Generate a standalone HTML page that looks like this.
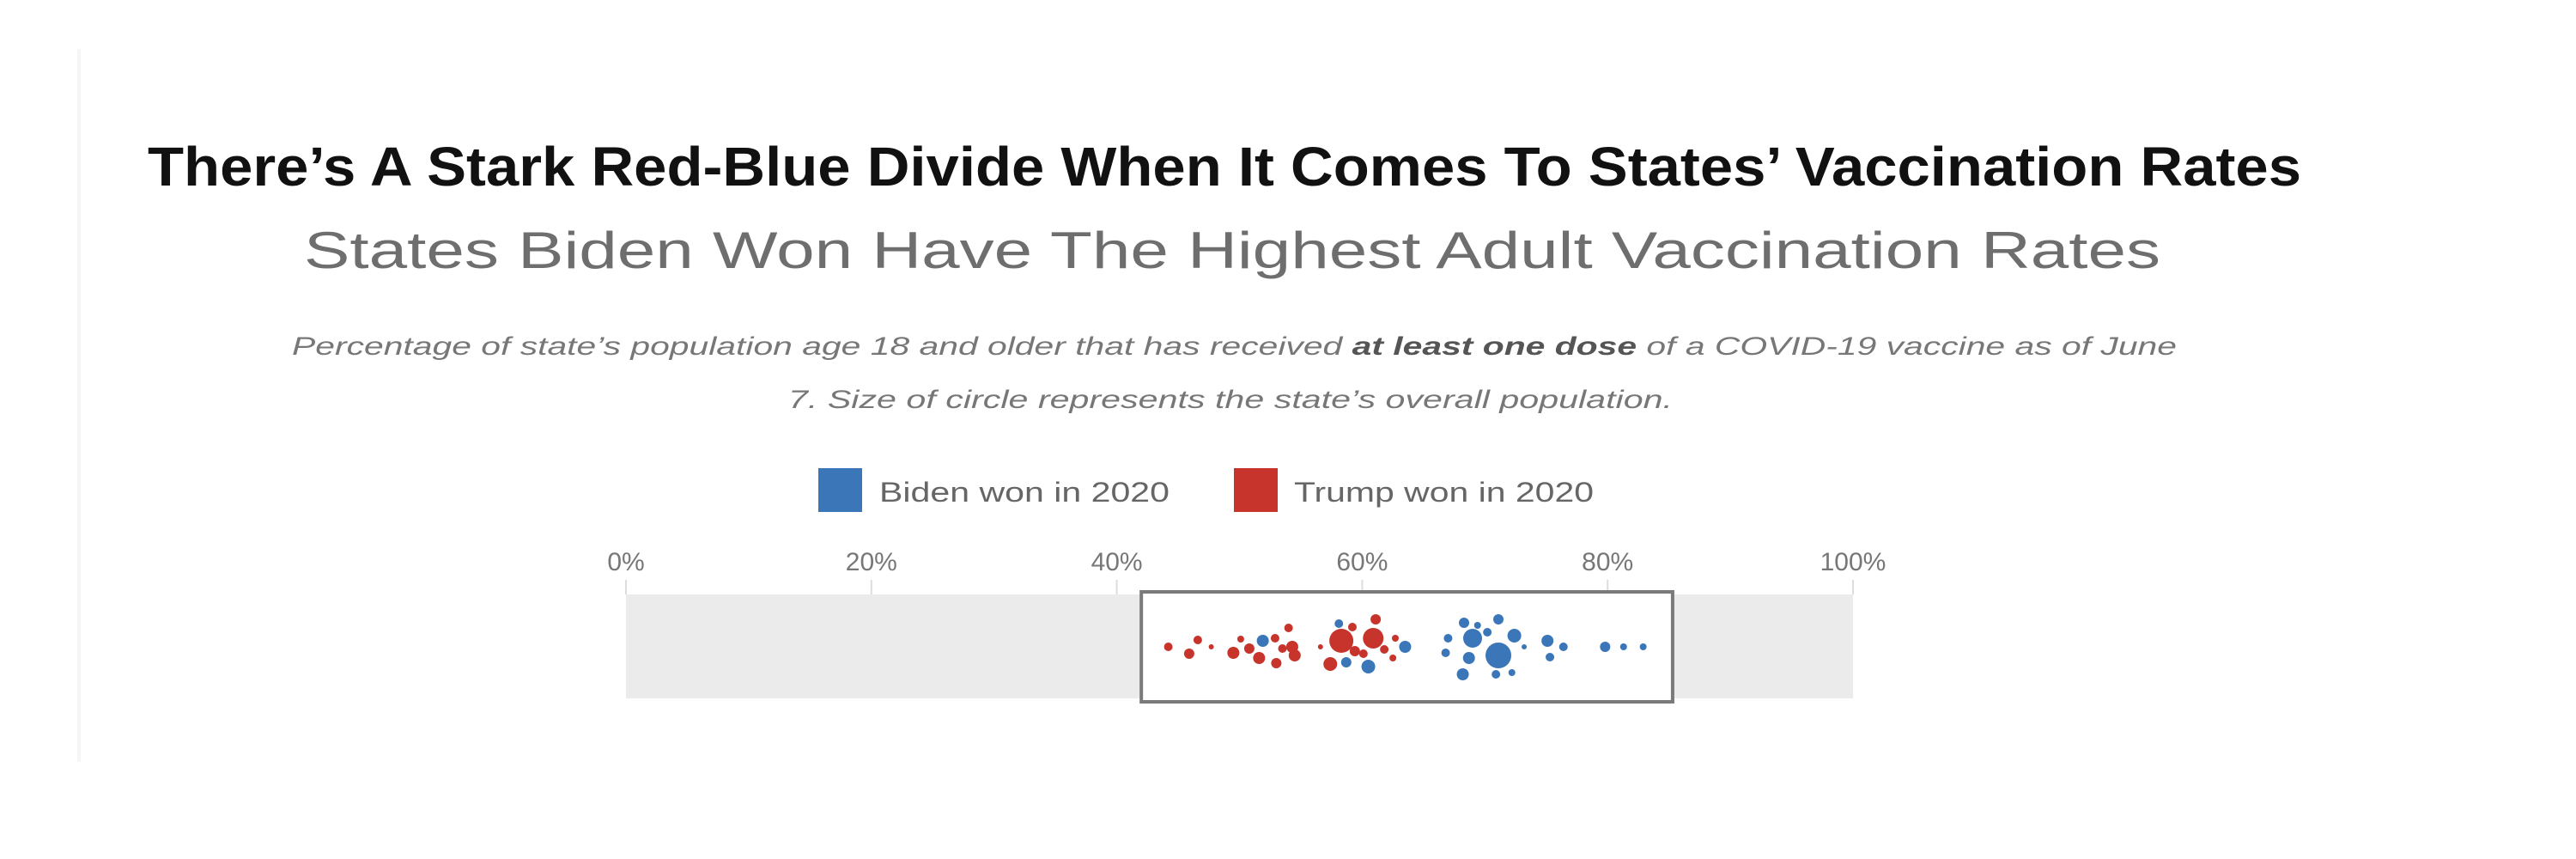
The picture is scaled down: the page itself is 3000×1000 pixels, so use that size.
<!DOCTYPE html>
<html><head><meta charset="utf-8"><style>
html,body{margin:0;padding:0;background:#fff;width:3000px;height:1000px;overflow:hidden}
svg{display:block}
</style></head><body>
<svg id="chart" width="3000" height="1000" viewBox="0 0 3000 1000" xmlns="http://www.w3.org/2000/svg" font-family="Liberation Sans, sans-serif">
<rect x="90" y="57" width="4" height="830" fill="#f6f6f6"/>
<text x="172" y="216" font-size="64" font-weight="bold" fill="#111" textLength="2508" lengthAdjust="spacingAndGlyphs">There’s A Stark Red-Blue Divide When It Comes To States’ Vaccination Rates</text>
<text x="354" y="312" font-size="60" fill="#6e6e6e" textLength="2162" lengthAdjust="spacingAndGlyphs">States Biden Won Have The Highest Adult Vaccination Rates</text>
<text x="340" y="413" font-size="30" font-style="italic" fill="#777" textLength="2195" lengthAdjust="spacingAndGlyphs">Percentage of state’s population age 18 and older that has received <tspan font-weight="bold" fill="#555">at least one dose</tspan> of a COVID-19 vaccine as of June</text>
<text x="918" y="475" font-size="30" font-style="italic" fill="#777" textLength="1030" lengthAdjust="spacingAndGlyphs">7. Size of circle represents the state’s overall population.</text>
<g>
<rect x="953" y="545" width="51" height="51" fill="#3a76b8"/>
<text x="1024" y="584" font-size="32" fill="#666" textLength="338" lengthAdjust="spacingAndGlyphs">Biden won in 2020</text>
<rect x="1437" y="545" width="51" height="51" fill="#c7342b"/>
<text x="1507" y="584" font-size="32" fill="#666" textLength="349" lengthAdjust="spacingAndGlyphs">Trump won in 2020</text>
</g>
<g id="axis"></g>
<g id="dots"></g>
</svg>
<script>
const tickValues = [0, 20, 40, 60, 80, 100];
const tickLabels = ["0%", "20%", "40%", "60%", "80%", "100%"];
const highlightRange = [42.0, 85.3];
const trumpPct = [44.2,45.9,46.6,47.7,49.5,50.1,50.8,51.6,52.9,53.0,54.0,54.3,54.5,53.5,56.6,57.4,58.3,59.2,59.4,60.1,60.9,61.1,61.8,62.5,62.7];
const trumpOffset = [0,8,-8,0,7,-9,2,13,-10,19,-22,0,10,2,0,20,-7,-23,5,8,-10,-32,3,13,-10];
const trumpSize = [5,6,5,3,7,4,6,7,5,6,5,7,7,5,3,8,14,5,6,5,12,6,5,4,4];
const bidenPct = [51.9,58.1,58.7,60.5,63.5,67.0,66.8,68.3,68.2,68.7,69.0,69.4,70.2,71.1,71.1,70.9,72.2,72.4,73.2,75.1,75.3,76.4,79.8,81.3,82.9];
const bidenOffset = [-7,-27,18,23,0,-10,7,-28,32,13,-10,-25,-17,-32,10,32,30,-13,0,-7,12,0,0,0,0];
const bidenSize = [7,5,6,8,7,5,5,6,7,7,11,4,5,6,15,5,4,8,3,7,5,5,6,4,4];

const NS = "http://www.w3.org/2000/svg";
const X0 = 729, X1 = 2158, BAND_TOP = 692, BAND_BOT = 813, CY = 753;
function xScale(v){ return X0 + (v/100)*(X1-X0); }
function mk(tag, attrs, parent){ const e=document.createElementNS(NS,tag); for(const k in attrs) e.setAttribute(k,attrs[k]); parent.appendChild(e); return e; }
const axis = document.getElementById('axis');
const band = mk('rect',{x:X0,y:BAND_TOP,width:X1-X0,height:BAND_BOT-BAND_TOP,fill:'#ebebeb'},axis);


tickValues.forEach((v,i)=>{
  const l = mk('line',{x1:xScale(v),x2:xScale(v),y1:675,y2:BAND_TOP,stroke:'#ddd','stroke-width':2},axis);
  
  
  const t = mk('text',{x:xScale(v),y:664,'font-size':30,fill:'#777','text-anchor':'middle'},axis);
  
  
  t.textContent = tickLabels[i];
});
const box = mk('rect',{x:xScale(highlightRange[0]),y:689,width:xScale(highlightRange[1])-xScale(highlightRange[0]),height:128,fill:'#fff',stroke:'#7a7a7a','stroke-width':4},axis);


const dots = document.getElementById('dots');
trumpPct.forEach((v,i)=>{
  const c = mk('circle',{cx:xScale(v),cy:CY+trumpOffset[i],r:trumpSize[i],fill:'#c7342b'},dots);
  
  
});
bidenPct.forEach((v,i)=>{
  const c = mk('circle',{cx:xScale(v),cy:CY+bidenOffset[i],r:bidenSize[i],fill:'#3a76b8'},dots);
  
  
});
</script>
</body></html>
